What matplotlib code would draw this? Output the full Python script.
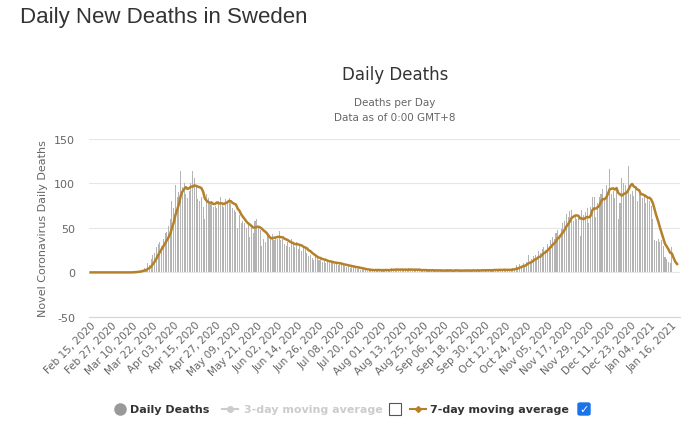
import matplotlib.pyplot as plt
import matplotlib.patches as patches
from matplotlib.lines import Line2D
import numpy as np
import pandas as pd

plt.rcParams["axes.unicode_minus"] = False

start_date = "2020-02-15"

# daily deaths, one row per week (first row starts Sat Feb 15, 2020)
daily_deaths = [
    0, 0, 0, 0, 0, 0, 0,
    0, 0, 0, 0, 0, 0, 0,
    0, 0, 0, 0, 0, 0, 0,
    0, 0, 0, 0, 1, 1, 1,
    2, 2, 3, 5, 4, 10, 8,
    15, 20, 22, 28, 32, 34, 30,
    38, 44, 45, 52, 60, 80, 72,
    98, 85, 90, 114, 96, 100, 88,
    84, 92, 101, 114, 106, 96, 82,
    80, 85, 74, 60, 88, 84, 78,
    80, 74, 75, 72, 80, 85, 78,
    74, 82, 80, 84, 78, 72, 70,
    68, 50, 64, 56, 58, 55, 50,
    54, 40, 52, 44, 58, 60, 52,
    48, 30, 38, 34, 44, 40, 38,
    43, 36, 40, 38, 46, 36, 38,
    32, 30, 34, 28, 38, 32, 28,
    34, 26, 30, 24, 28, 26, 22,
    18, 20, 16, 14, 18, 16, 14,
    15, 12, 13, 10, 12, 11, 13,
    10, 9, 11, 8, 10, 9, 8,
    7, 6, 8, 5, 7, 6, 5,
    4, 5, 3, 4, 3, 3, 2,
    3, 2, 2, 3, 4, 2, 3,
    1, 3, 2, 4, 3, 2, 5,
    2, 3, 4, 3, 2, 4, 3,
    3, 2, 5, 3, 2, 3, 4,
    2, 3, 1, 3, 2, 3, 2,
    3, 2, 2, 1, 3, 2, 3,
    2, 1, 3, 2, 2, 3, 1,
    2, 3, 2, 2, 1, 3, 2,
    2, 3, 2, 1, 3, 2, 2,
    3, 2, 3, 2, 2, 3, 2,
    3, 2, 4, 3, 2, 3, 3,
    2, 4, 3, 3, 2, 3, 5,
    4, 8, 6, 9, 7, 10, 8,
    12, 19, 11, 15, 18, 20, 14,
    24, 22, 26, 28, 25, 32, 30,
    36, 40, 38, 44, 48, 42, 49,
    55, 58, 66, 62, 69, 70, 58,
    64, 60, 62, 41, 70, 64, 68,
    72, 56, 74, 85, 85, 62, 78,
    85, 88, 94, 84, 98, 90, 116,
    88, 92, 84, 96, 60, 78, 106,
    100, 98, 92, 120, 88, 92, 86,
    94, 80, 88, 90, 84, 86, 78,
    82, 80, 75, 60, 36, 35, 37,
    34, 36, 30, 17, 15, 12, 10,
    29, 0, 0, 0,
]

dates = pd.date_range(start_date, periods=len(daily_deaths), freq="D")
deaths = pd.Series(daily_deaths, index=dates)
avg7 = deaths.rolling(7, min_periods=1).mean()

x = np.arange(len(deaths))
tick_idx = x[::12]
tick_labels = [d.strftime("%b %d, %Y") for d in dates[tick_idx]]

fig = plt.figure(figsize=(7, 4.39), dpi=100)
ax = fig.add_axes([0.127, 0.276, 0.844, 0.405])

ax.bar(x, deaths.values, width=0.6, color="#b4b4b4", linewidth=0)
ax.plot(x, avg7.values, color="#b5802a", lw=1.8)

ax.set_ylim(-50, 150)
ax.set_xlim(-1, len(x) + 0.5)
ax.set_yticks([-50, 0, 50, 100, 150])
ax.grid(axis="y", color="#e6e6e6", lw=0.8)
ax.set_axisbelow(True)
for s in ["top", "right", "left"]:
    ax.spines[s].set_visible(False)
ax.spines["bottom"].set_color("#ccd6eb")
ax.tick_params(axis="y", length=0, colors="#666666", labelsize=8, pad=10)
ax.tick_params(axis="x", length=0, colors="#666666", labelsize=7.5, pad=2)
ax.set_xticks(tick_idx)
ax.set_xticklabels(tick_labels, rotation=45, ha="right", va="top",
                   rotation_mode="anchor")
ax.set_ylabel("Novel Coronavirus Daily Deaths", color="#666666", fontsize=8,
              labelpad=4)

fig.text(0.028, 0.96, "Daily New Deaths in Sweden", fontsize=16,
         family="Liberation Sans", color="#333333", va="center")
fig.text(0.564, 0.83, "Daily Deaths", fontsize=12, color="#333333",
         ha="center", va="center")
fig.text(0.564, 0.765, "Deaths per Day", fontsize=7.5, color="#666666",
         ha="center", va="center")
fig.text(0.564, 0.732, "Data as of 0:00 GMT+8", fontsize=7.5,
         color="#666666", ha="center", va="center")

# legend drawn by hand
ly = 1 - 410 / 439
fig.add_artist(Line2D([120 / 700], [ly], marker="o", ms=8, color="#999999",
                      transform=fig.transFigure))
fig.text(130 / 700, ly, "Daily Deaths", fontsize=8, weight="bold",
         color="#333333", va="center")
fig.add_artist(Line2D([222 / 700, 238 / 700], [ly, ly], color="#cccccc",
                      lw=1.5, transform=fig.transFigure))
fig.add_artist(Line2D([230 / 700], [ly], marker="o", ms=4, color="#cccccc",
                      transform=fig.transFigure))
fig.text(244 / 700, ly, "3-day moving average", fontsize=8, weight="bold",
         color="#cccccc", va="center")
fig.add_artist(patches.Rectangle((389 / 700, ly - 6 / 439), 12 / 700, 12 / 439,
                                 fill=False, ec="#555555", lw=0.8,
                                 transform=fig.transFigure))
fig.add_artist(Line2D([410 / 700, 426 / 700], [ly, ly], color="#b5802a", lw=1.5,
                      transform=fig.transFigure))
fig.add_artist(Line2D([418 / 700], [ly], marker="D", ms=3, color="#b5802a",
                      transform=fig.transFigure))
fig.text(430 / 700, ly, "7-day moving average", fontsize=8, weight="bold",
         color="#333333", va="center")
fig.add_artist(patches.FancyBboxPatch((578 / 700, ly - 6 / 439), 12 / 700,
                                      12 / 439, boxstyle="round,pad=0,rounding_size=0.003",
                                      fc="#1a73e8", ec="#1a73e8",
                                      transform=fig.transFigure))
fig.text(584 / 700, ly, "\u2713", fontsize=8, weight="bold", color="white",
         ha="center", va="center")

fig.savefig("out.png", dpi=100)
